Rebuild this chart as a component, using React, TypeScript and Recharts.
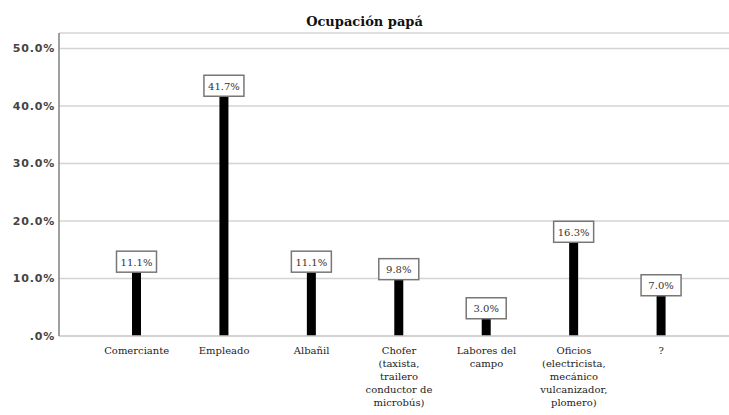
import { BarChart, Bar, XAxis, YAxis, CartesianGrid, LabelList } from 'recharts';

const categories = [
  'Comerciante',
  'Empleado',
  'Albañil',
  'Chofer\n(taxista,\ntrailero\nconductor de\nmicrobús)',
  'Labores del\ncampo',
  'Oficios\n(electricista,\nmecánico\nvulcanizador,\nplomero)',
  '?',
];
const percents = [11.1, 41.7, 11.1, 9.8, 3.0, 16.3, 7.0];
const yTicks = [0, 10, 20, 30, 40, 50];

const data = categories.map((cat, i) => ({ cat, pct: percents[i] }));

const serif = '"DejaVu Serif", "Liberation Serif", serif';

// multi-line category label under the axis
const CatTick = (props: any) => {
  const { x, y, payload } = props;
  const lines = String(payload.value).split('\n');
  return (
    <text x={x} y={y} textAnchor="middle" fontFamily={serif} fontSize={10} fill="#222">
      {lines.map((ln, i) => (
        <tspan key={i} x={x} dy={i === 0 ? 10 : 13}>{ln}</tspan>
      ))}
    </text>
  );
};

// boxed value label sitting on top of each bar
const ValueBox = (props: any) => {
  const { x, y, width, value } = props;
  const cx = x + width / 2;
  const w = 40;
  const h = 21;
  return (
    <g>
      <rect x={cx - w / 2} y={y - h} width={w} height={h} fill="#fff" stroke="#777" strokeWidth={1.5} />
      <text x={cx} y={y - h / 2 + 4} textAnchor="middle" fontFamily={serif} fontSize={10} fill="#333">
        {Number(value).toFixed(1) + '%'}
      </text>
    </g>
  );
};

export default function App() {
  return (
    <div style={{ position: 'relative', width: 729, height: 415, background: '#fff' }}>
      <style>{'body{margin:0}'}</style>
      <div
        style={{
          position: 'absolute',
          top: 14,
          left: 0,
          width: 729,
          textAlign: 'center',
          fontFamily: serif,
          fontWeight: 'bold',
          fontSize: 13,
          color: '#111',
        }}
      >
        Ocupación papá
      </div>
      <BarChart width={729} height={415} data={data} margin={{ top: 33, right: 0, left: 0, bottom: 49 }} barSize={9}>
        <CartesianGrid vertical={false} stroke="#d4d4d4" strokeWidth={1.3} />
        <XAxis
          dataKey="cat"
          interval={0}
          padding={{ left: 34, right: 24 }}
          axisLine={{ stroke: '#cfcfcf', strokeWidth: 1.3 }}
          tickLine={false}
          tick={<CatTick />}
        />
        <YAxis
          width={59}
          domain={[0, 52.7]}
          ticks={yTicks}
          interval={0}
          allowDataOverflow
          axisLine={{ stroke: '#888', strokeWidth: 1.6 }}
          tickLine={false}
          tickSize={2}
          tickMargin={2}
          tickFormatter={(v: number) => (v === 0 ? '.0%' : v.toFixed(1) + '%')}
          tick={{ fontFamily: '"DejaVu Sans", sans-serif', fontSize: 11, fontWeight: 600, fill: '#444', letterSpacing: 0.8 }}
        />
        <Bar dataKey="pct" fill="#000" isAnimationActive={false}>
          <LabelList dataKey="pct" content={<ValueBox />} />
        </Bar>
      </BarChart>
    </div>
  );
}
